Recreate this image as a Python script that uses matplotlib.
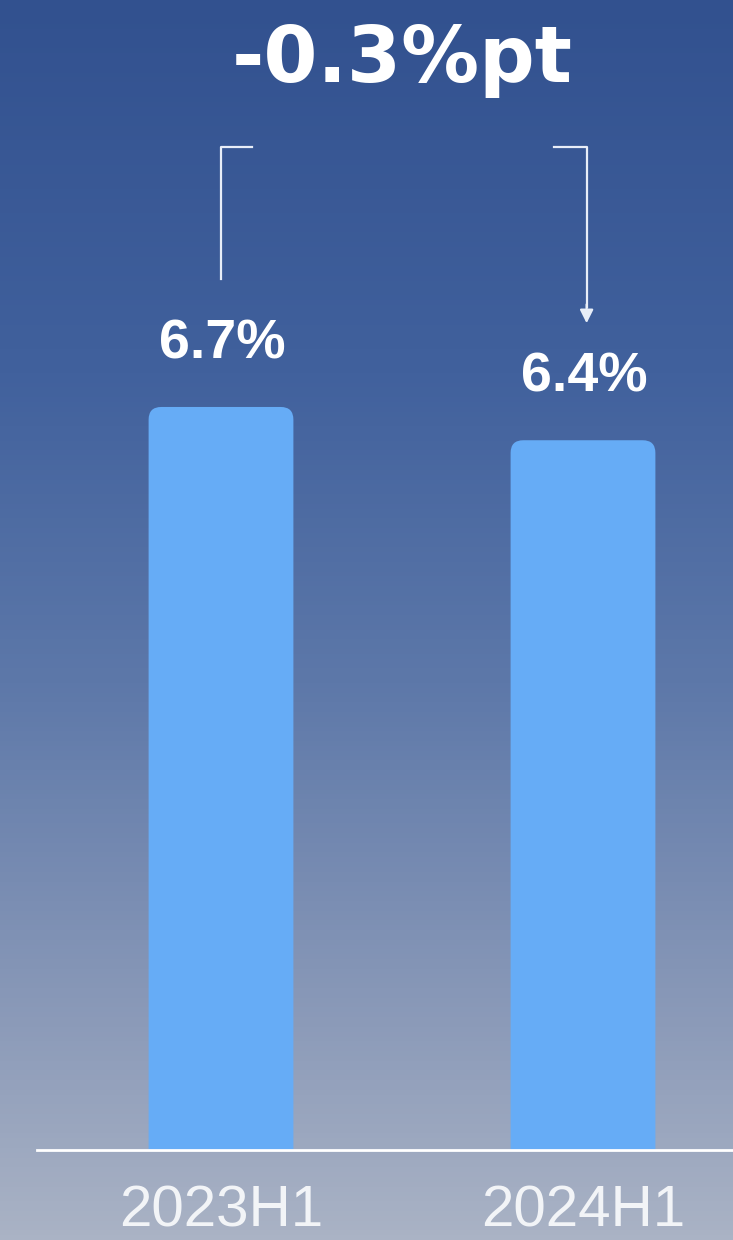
import numpy as np
import matplotlib
matplotlib.use("Agg")
import matplotlib.pyplot as plt
from matplotlib.patches import FancyBboxPatch
from matplotlib.colors import LinearSegmentedColormap

# ---- data ----
categories = ["2023H1", "2024H1"]
values = [6.7, 6.4]
value_labels = ["6.7%", "6.4%"]
change_label = "-0.3%pt"

W, H, DPI = 733, 1240, 100
fig = plt.figure(figsize=(W / DPI, H / DPI), dpi=DPI)

# background gradient
bg = fig.add_axes([0, 0, 1, 1])
bg_cmap = LinearSegmentedColormap.from_list(
    "bg", [(0.0, "#32518f"), (0.3, "#41619d"), (0.55, "#5d78a9"),
           (0.8, "#8797b7"), (1.0, "#aab3c5")])
grad = np.linspace(0, 1, 256).reshape(-1, 1)
bg.imshow(grad, aspect="auto", cmap=bg_cmap, extent=[0, 1, 1, 0])
bg.set_axis_off()

# main axes
base_px = 1150
ax = fig.add_axes([0, (H - base_px) / H, 1, base_px / H])
ax.set_facecolor("none")
px_per_unit_y = 110.9
ax.set_ylim(0, base_px / px_per_unit_y)
c0, unit_x = 221, 362
ax.set_xlim(-c0 / unit_x, (W - c0) / unit_x)
for s in ax.spines.values():
    s.set_visible(False)
ax.set_yticks([])

x = np.arange(len(categories))
bar_w = 0.40
bar_color = "#66acf6"
bars = ax.bar(x, values, width=bar_w, color="none")
r = 0.035
asp = unit_x / px_per_unit_y
for b in bars:
    p = FancyBboxPatch((b.get_x(), -1.0), b.get_width(), b.get_height() + 1.0,
                       boxstyle=f"round,pad=0,rounding_size={r}",
                       mutation_aspect=asp, facecolor=bar_color,
                       edgecolor="none", zorder=2)
    ax.add_patch(p)

# baseline
ax.axhline(0, xmin=37 / W, xmax=1, color="white", lw=2, zorder=3, clip_on=False)

# value labels
for xi, v, lab in zip(x, values, value_labels):
    ax.annotate(lab, (xi, v), xytext=(1, 35), textcoords="offset points",
                ha="center", va="baseline", color="white", fontsize=40,
                fontweight="bold", family=["Liberation Sans", "DejaVu Sans"])

# ticks
ax.set_xticks(x)
ax.set_xticklabels(categories, fontsize=42, color="#f2f4f7",
                   family=["Liberation Sans", "DejaVu Sans"])
ax.tick_params(axis="x", length=0, pad=25)

# bracket
line_kw = dict(color="#e8eef8", lw=1.6, zorder=4)
y_top = 9.04
ax.plot([x[0], x[0], x[0] + 0.086], [7.85, y_top, y_top], **line_kw)
ax.plot([x[1] - 0.08, x[1] + 0.01, x[1] + 0.01], [y_top, y_top, 7.6], **line_kw)
ax.annotate("", xy=(x[1] + 0.01, 7.43), xytext=(x[1] + 0.01, 7.65),
            arrowprops=dict(arrowstyle="-|>,head_length=0.8,head_width=0.4",
                            color="#e8eef8", lw=1.6), zorder=4)

# title
fig.text(402 / W, 1 - 82 / H, change_label, ha="center", va="baseline",
         color="white", fontsize=56, fontweight="bold",
         family=["DejaVu Sans"])

fig.savefig("out.png", dpi=DPI)
